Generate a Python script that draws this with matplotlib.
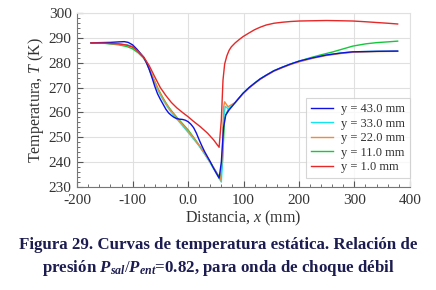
import matplotlib
matplotlib.use("Agg")
import matplotlib.pyplot as plt
from matplotlib.ticker import MultipleLocator

plt.rcParams["font.family"] = "Liberation Serif"
plt.rcParams["mathtext.fontset"] = "custom"
plt.rcParams["mathtext.rm"] = "Liberation Serif"
plt.rcParams["mathtext.it"] = "Liberation Serif:italic"
plt.rcParams["mathtext.bf"] = "Liberation Serif:bold"
plt.rcParams["mathtext.bfit"] = "Liberation Serif:italic:bold"

# --- data ---
x_43 = [-175, -160, -140, -125, -115, -108, -100, -92, -85, -80, -75, -70, -65, -60, -55, -50, -45, -40, -35, -30, -25, -20, -15, -10, -5, 0, 5, 10, 15, 20, 25, 30, 35, 40, 45, 50, 56,
        60, 64, 68, 74, 85, 99, 110, 120, 130, 141, 155, 170, 185, 201, 225, 249, 275, 297, 340, 378]
T_43 = [288, 288.1, 288.2, 288.4, 288.5, 288.2, 287.2, 285.4, 283.5, 282.2, 280, 277.3, 274, 270.5, 267.5, 265.3, 263.3, 261.3, 259.8, 258.8, 258.0, 257.5, 257.3, 257.2, 256.9, 256.3, 255.3, 253.9, 251.7, 249.0, 246.5, 244.2, 242.2, 240.2, 238.0, 236.0, 233.6,
        240, 254, 259, 261, 264, 267.7, 270, 271.8, 273.5, 275, 276.8, 278.2, 279.5, 280.7, 282, 283.1, 283.9, 284.4, 284.6, 284.7]

x_33 = [-175, -150, -125, -110, -100, -90, -80, -75, -70, -65, -60, -55, -50, -45, -40, -35, -30, -20, -10, 0, 10, 20, 30, 40, 50, 60,
        62, 64, 67, 72, 85, 99, 110, 120, 130, 141, 155, 170, 185, 201, 225, 249, 275, 297, 340, 378]
T_33 = [288, 287.9, 287.6, 287.2, 286.6, 284.8, 282, 280, 277.3, 274.5, 271.8, 269.3, 267, 265, 263.2, 261.5, 260, 257.3, 254.7, 252, 249.3, 246.5, 243.2, 239.7, 235.8, 232,
        240, 257, 262.5, 261.5, 264, 267.7, 270, 271.8, 273.5, 275, 276.8, 278.2, 279.5, 280.7, 282, 283.1, 283.9, 284.4, 284.6, 284.7]

x_22 = [-175, -150, -125, -110, -100, -90, -80, -75, -70, -65, -60, -55, -50, -45, -40, -35, -30, -20, -10, 0, 10, 20, 30, 40, 50, 59,
        62, 64, 66, 72, 85, 99, 110, 120, 130, 141, 155, 170, 185, 201, 225, 249, 275, 297, 340, 378]
T_22 = [288, 287.9, 287.5, 287.0, 286.4, 284.6, 282, 280.2, 277.6, 275, 272.3, 269.8, 267.5, 265.5, 263.6, 261.9, 260.4, 257.7, 255.1, 252.5, 249.7, 246.8, 243.5, 240, 236.2, 232.8,
        245, 262, 264.3, 262.3, 264, 267.5, 269.8, 271.6, 273.3, 274.8, 276.6, 278, 279.3, 280.4, 281.8, 282.9, 283.7, 284.2, 284.5, 284.6]

x_11 = [-175, -150, -125, -110, -100, -90, -80, -75, -70, -65, -60, -55, -50, -45, -40, -35, -30, -20, -10, 0, 10, 20, 30, 40, 50, 58,
        62, 66, 72, 85, 99, 110, 120, 130, 141, 155, 170, 185, 201, 220, 240, 260, 280, 297, 320, 340, 360, 378]
T_11 = [288, 287.8, 287.2, 286.5, 285.6, 284, 281.8, 280, 277.5, 275, 272.5, 270, 267.8, 265.8, 263.9, 262.2, 260.7, 258, 255.5, 253, 250, 246.8, 243.5, 240, 236.4, 233.5,
        240, 258, 261, 264, 267.6, 270, 271.8, 273.5, 275, 276.8, 278.2, 279.5, 280.7, 282, 283.2, 284.3, 285.6, 286.7, 287.6, 288.1, 288.4, 288.7]

x_1 = [-175, -150, -125, -110, -100, -90, -80, -70, -60, -50, -40, -30, -20, -10, 0, 10, 22, 35, 46, 56,
       60, 63, 66, 70, 74, 78, 85, 92, 99, 110, 120, 130, 141, 155, 170, 185, 201, 225, 250, 275, 297, 320, 340, 360, 378]
T_1 = [288, 287.9, 287.6, 287.1, 286.3, 284.6, 282.3, 278.8, 274.3, 270, 266.8, 264, 261.8, 260, 258.3, 256.4, 254.3, 251.7, 249, 246,
       257, 273, 279.5, 282.8, 285, 286.4, 288, 289.3, 290.5, 292, 293.3, 294.3, 295.2, 295.9, 296.3, 296.6, 296.8, 296.9, 297, 296.9, 296.8, 296.5, 296.2, 295.9, 295.6]

labels = ["y = 43.0 mm", "y = 33.0 mm", "y = 22.0 mm", "y = 11.0 mm", "y = 1.0 mm"]
colors = ["#1010e0", "#10e6f0", "#f08a3c", "#14c83c", "#e62828"]

fig = plt.figure(figsize=(4.36, 2.90), dpi=100)
ax = fig.add_axes([0.177, 0.355, 0.763, 0.600])

series = [(x_43, T_43), (x_33, T_33), (x_22, T_22), (x_11, T_11), (x_1, T_1)]
zorders = [6, 3, 4, 2, 7]
for (xs, ts), lab, c, z in zip(series, labels, colors, zorders):
    ax.plot(xs, ts, color=c, lw=1.0, label=lab, zorder=z)

ax.set_xlim(-200, 400)
ax.set_ylim(230, 300)
ax.xaxis.set_minor_locator(MultipleLocator(20))
ax.yaxis.set_major_locator(MultipleLocator(10))
ax.yaxis.set_minor_locator(MultipleLocator(2))
ax.set_xticks([-200, -100, 0, 100, 200, 300, 400])
ax.set_xticklabels(["-200", "-100", "0.0", "100", "200", "300", "400"])
ax.tick_params(which="both", direction="in", labelsize=11, colors="#555555", labelcolor="#333333", top=False, right=False)
ax.tick_params(which="major", length=4)
ax.tick_params(which="minor", length=2)
ax.tick_params(axis="x", pad=5)
ax.tick_params(axis="y", pad=4)
ax.grid(True, which="major", color="#e0e0e0", lw=0.8)
ax.set_axisbelow(True)
for s in ["top", "right"]:
    ax.spines[s].set_color("#e0e0e0")
for s in ["left", "bottom"]:
    ax.spines[s].set_color("#777777")

ax.set_xlabel("Distancia, $x$ (mm)", fontsize=11.5, color="#333333", labelpad=1)
ax.set_ylabel("Temperatura, $T$ (K)", fontsize=11.5, color="#333333", labelpad=2)

leg = ax.legend(loc="lower right", bbox_to_anchor=(1.0, 0.05), fontsize=9, frameon=True,
                fancybox=False, edgecolor="#cccccc", handlelength=1.8, labelspacing=0.2,
                borderpad=0.4, handletextpad=0.6, borderaxespad=0.0)
leg.get_frame().set_linewidth(0.8)
for t in leg.get_texts():
    t.set_color("#333333")

cap_color = "#1c1c50"
fig.text(0.5, 0.155, "Figura 29. Curvas de temperatura estática. Relación de",
         ha="center", va="center", fontsize=12.2, fontweight="bold", color=cap_color)
fig.text(0.5, 0.075, r"presión $\mathbfit{P}_{\mathbfit{sal}}/\mathbfit{P}_{\mathbfit{ent}}$=0.82, para onda de choque débil",
         ha="center", va="center", fontsize=12.2, fontweight="bold", color=cap_color)

fig.savefig("out.png", dpi=100)
